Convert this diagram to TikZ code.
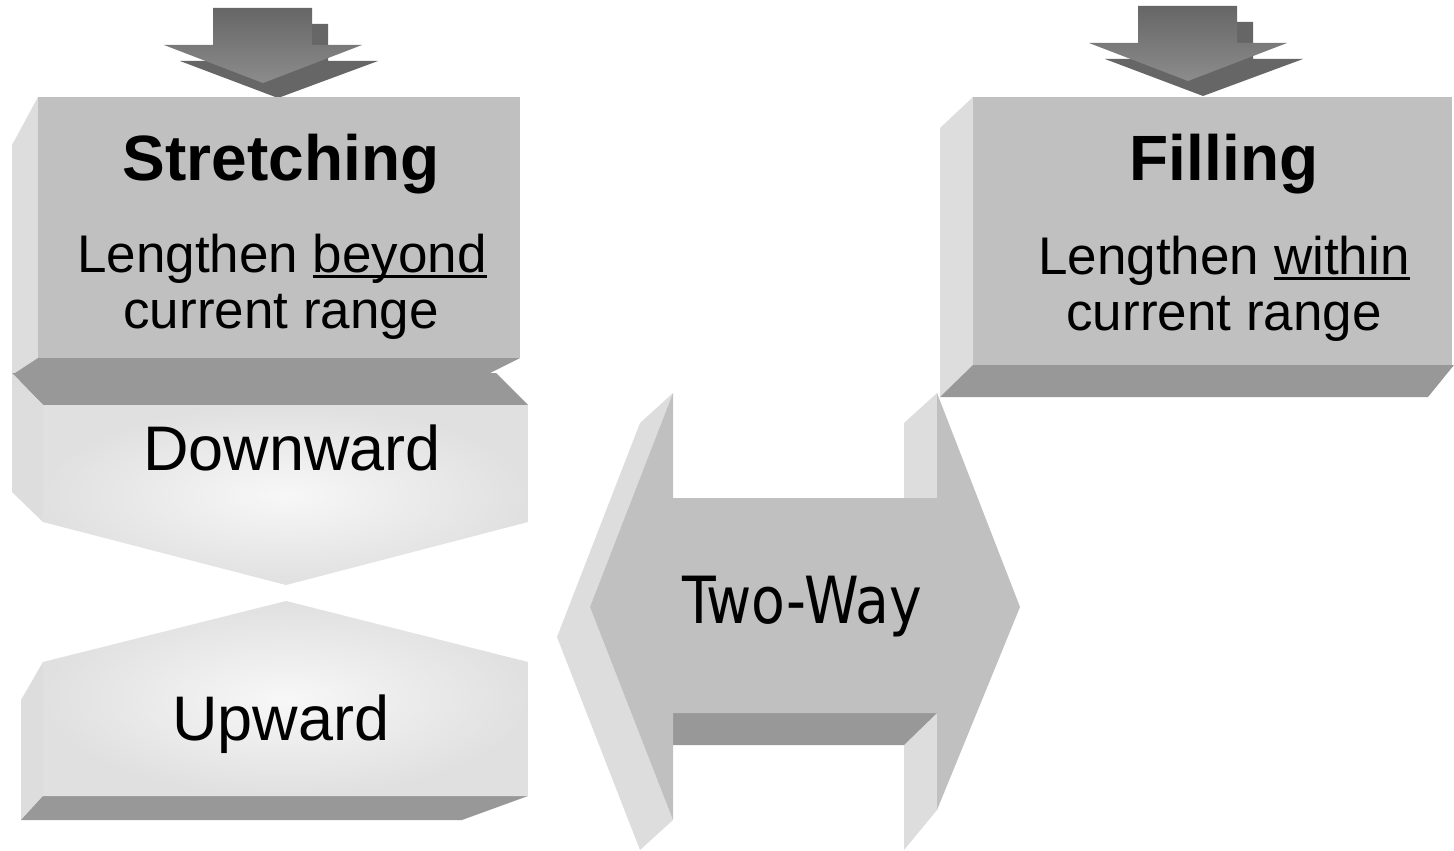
\documentclass[tikz,border=0pt]{standalone}
\usepackage{fontspec}
\setmainfont{Liberation Sans}
\newfontfamily\twofont[FakeStretch=0.85]{DejaVu Sans}
\definecolor{frontgray}{HTML}{C0C0C0}
\definecolor{sidegray}{HTML}{DDDDDD}
\definecolor{botgray}{HTML}{989898}
\definecolor{arrdark}{HTML}{666666}
\definecolor{arrlight}{HTML}{8C8C8C}
\definecolor{palegray}{HTML}{E0E0E0}
\newcommand\myul[1]{\setbox0\hbox{#1}\rlap{\rule[-0.11em]{\wd0}{0.055em}}\box0}
\tikzset{
  frontface/.style={fill=frontgray},
  sideface/.style={fill=sidegray},
  botface/.style={fill=botgray},
  paleface/.style={inner color=white!97!black, outer color=palegray},
  txt/.style={anchor=base, inner sep=0pt, text=black},
  bigbold/.style={font=\fontsize{64}{64}\selectfont\bfseries},
  subtxt/.style={font=\fontsize{53}{56}\selectfont},
  midtxt/.style={font=\fontsize{63}{63}\selectfont},
}
\begin{document}
\begin{tikzpicture}[x=1pt,y=-1pt]
\useasboundingbox (0,0) rectangle (1454,851);
\fill[white] (0,0) rectangle (1454,851);

% ---- top arrows ----
\foreach \dx/\dy in {0/0, 925/-2}{
  \begin{scope}[shift={(\dx,\dy)}]
    \fill[arrdark] (229,24) -- (328,24) -- (328,61) -- (378,61) -- (278,98) -- (180,61) -- (229,61) -- cycle;
    \shade[top color=arrdark, bottom color=arrlight] (213,8) -- (312,8) -- (312,45) -- (362,45) -- (263,83) -- (164,45) -- (213,45) -- cycle;
  \end{scope}
}

% ---- Stretching box ----
\fill[sideface] (38,97) -- (12,145) -- (12,375) -- (38,358) -- cycle;
\fill[botface] (38,358) -- (520,358) -- (490,373) -- (12,375) -- cycle;
\fill[frontface] (38,97) rectangle (520,358);

% ---- Downward ----
\fill[botface] (12,373) -- (496,373) -- (528,405) -- (43,405) -- cycle;
\fill[sideface] (12,373) -- (43,405) -- (43,522) -- (12,492) -- cycle;
\shade[paleface] (43,405) -- (528,405) -- (528,522) -- (286,585) -- (43,522) -- cycle;

% ---- Upward ----
\fill[sideface] (43,662) -- (21,700) -- (21,820) -- (43,796) -- cycle;
\fill[botface] (43,796) -- (528,796) -- (462,820) -- (21,820) -- cycle;
\shade[paleface] (286,601) -- (528,662) -- (528,796) -- (43,796) -- (43,662) -- cycle;

% ---- Filling box ----
\fill[sideface] (973,97) -- (940,128) -- (940,397) -- (973,365) -- cycle;
\fill[botface] (973,365) -- (1454,365) -- (1428,397) -- (940,397) -- cycle;
\fill[frontface] (973,97) rectangle (1452,365);

% ---- Two-Way arrow ----
\fill[sideface] (673,393) -- (640,423) -- (557,637) -- (640,850) -- (673,820) -- (590,607) -- cycle;
\fill[sideface] (937,393) -- (904,423) -- (904,500) -- (937,500) -- cycle;
\fill[sideface] (937,713) -- (937,810) -- (904,850) -- (904,745) -- cycle;
\fill[botface] (673,713) -- (937,713) -- (904,745) -- (673,745) -- cycle;
\fill[frontface] (673,498) -- (673,393) -- (590,607) -- (673,820) -- (673,713) -- (937,713) -- (937,810) -- (1020,607) -- (937,393) -- (937,498) -- cycle;

% ---- texts ----
\node[txt, bigbold] (st) at (281,180) {Stretching};
\node[txt, subtxt] (st1) at (282,272) {Lengthen \myul{beyond}};
\node[txt, subtxt] (st2) at (281,328) {current range};
\node[txt, bigbold] (fi) at (1224,180) {Filling};
\node[txt, subtxt] (fi1) at (1224,274) {Lengthen \myul{within}};
\node[txt, subtxt] (fi2) at (1224,330) {current range};
\node[txt, midtxt] (dw) at (292,470) {Downward};
\node[txt, midtxt] (up) at (281,740) {Upward};
\node[txt, font=\twofont\fontsize{65}{65}\selectfont] (tw) at (802,623) {Two-Way};
\end{tikzpicture}
\end{document}
